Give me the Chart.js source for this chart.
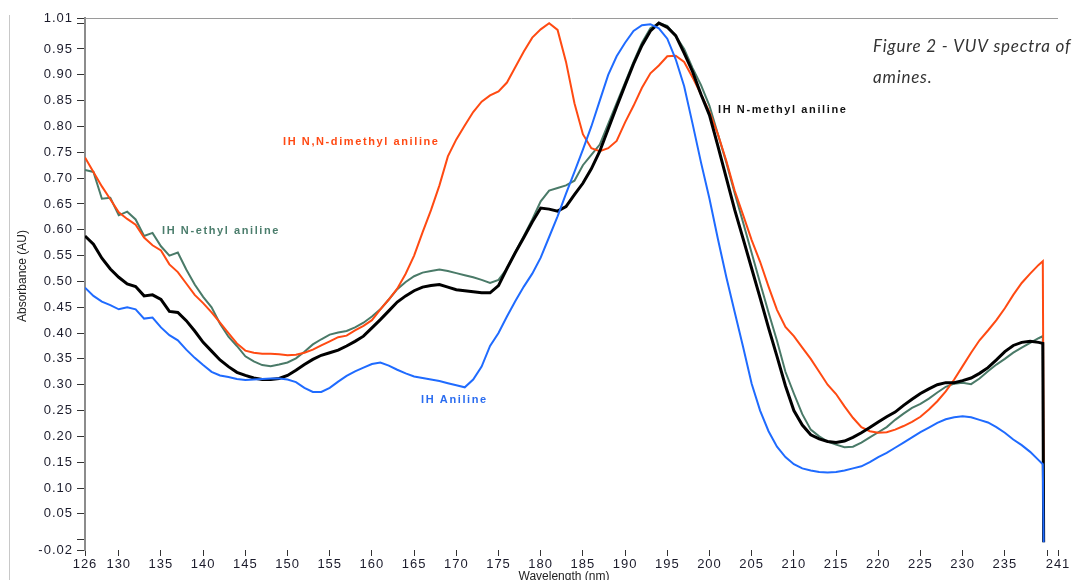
<!DOCTYPE html>
<html lang="en">
<head>
  <meta charset="UTF-8">
  <title>VUV spectra of amines</title>
  <script src="https://cdn.jsdelivr.net/npm/chart.js"></script>
  <style>
    body { margin: 0; background: #fff; }
    canvas { display: block; }
  </style>
</head>
<body>
  <canvas id="spectra" width="1075" height="580"></canvas>

  <script>
    // wavelength (nm), the last point is where every trace drops off
    const wavelengths = [
      126,127,128,129,130,131,132,133,134,135,136,137,138,139,140,141,142,143,144,145,
      146,147,148,149,150,151,152,153,154,155,156,157,158,159,160,161,162,163,164,165,
      166,167,168,169,170,171,172,173,174,175,176,177,178,179,180,181,182,183,184,185,
      186,187,188,189,190,191,192,193,194,195,196,197,198,199,200,201,202,203,204,205,
      206,207,208,209,210,211,212,213,214,215,216,217,218,219,220,221,222,223,224,225,
      226,227,228,229,230,231,232,233,234,235,236,237,238,239,239.5,239.6
    ];

    const dimethylAniline = [
      0.740,0.712,0.684,0.659,0.634,0.621,0.610,0.585,0.570,0.560,
      0.533,0.518,0.496,0.474,0.458,0.440,0.420,0.400,0.380,0.366,
      0.362,0.360,0.360,0.359,0.357,0.358,0.362,0.368,0.376,0.384,
      0.392,0.395,0.405,0.414,0.425,0.446,0.465,0.486,0.515,0.550,
      0.595,0.638,0.686,0.742,0.775,0.802,0.828,0.848,0.860,0.868,
      0.885,0.915,0.945,0.972,0.988,1.000,0.987,0.925,0.845,0.785,
      0.758,0.752,0.758,0.772,0.808,0.840,0.875,0.903,0.918,0.936,
      0.937,0.925,0.895,0.862,0.828,0.785,0.733,0.675,0.628,0.580,
      0.538,0.490,0.445,0.412,0.394,0.372,0.350,0.325,0.300,0.282,
      0.258,0.236,0.218,0.210,0.207,0.208,0.213,0.220,0.228,0.238,
      0.252,0.268,0.287,0.310,0.336,0.362,0.386,0.405,0.425,0.448,
      0.474,0.497,0.515,0.532,0.539,0.150
    ];

    const ethylAniline = [
      0.716,0.712,0.660,0.662,0.628,0.635,0.620,0.588,0.594,0.568,
      0.550,0.556,0.523,0.494,0.470,0.450,0.418,0.393,0.375,0.355,
      0.345,0.338,0.336,0.339,0.343,0.351,0.364,0.378,0.388,0.397,
      0.401,0.404,0.411,0.420,0.432,0.446,0.465,0.485,0.499,0.510,
      0.517,0.520,0.523,0.520,0.516,0.512,0.508,0.503,0.497,0.503,
      0.525,0.557,0.588,0.620,0.655,0.676,0.681,0.686,0.695,0.725,
      0.745,0.765,0.805,0.845,0.885,0.925,0.962,0.990,1.000,0.995,
      0.975,0.950,0.913,0.880,0.840,0.785,0.730,0.670,0.613,0.555,
      0.497,0.440,0.385,0.325,0.283,0.243,0.213,0.200,0.190,0.184,
      0.179,0.180,0.188,0.198,0.208,0.218,0.232,0.244,0.255,0.263,
      0.273,0.285,0.296,0.302,0.304,0.301,0.312,0.326,0.339,0.350,
      0.362,0.372,0.381,0.390,0.394,0.000
    ];

    const methylAniline = [
      0.588,0.572,0.545,0.524,0.508,0.495,0.490,0.472,0.474,0.465,
      0.442,0.440,0.424,0.404,0.382,0.365,0.348,0.335,0.324,0.318,
      0.313,0.310,0.310,0.312,0.318,0.328,0.339,0.349,0.357,0.362,
      0.367,0.375,0.384,0.394,0.410,0.426,0.443,0.460,0.472,0.482,
      0.489,0.492,0.494,0.489,0.484,0.482,0.480,0.478,0.478,0.492,
      0.525,0.556,0.585,0.615,0.642,0.640,0.636,0.645,0.668,0.690,
      0.718,0.752,0.795,0.838,0.880,0.921,0.957,0.985,1.000,0.992,
      0.976,0.942,0.906,0.862,0.822,0.762,0.700,0.638,0.582,0.525,
      0.468,0.410,0.355,0.298,0.250,0.222,0.203,0.195,0.190,0.188,
      0.191,0.198,0.207,0.217,0.228,0.238,0.247,0.260,0.272,0.283,
      0.292,0.300,0.304,0.304,0.308,0.313,0.322,0.333,0.348,0.364,
      0.376,0.382,0.384,0.382,0.380,-0.005
    ];

    const aniline = [
      0.488,0.472,0.461,0.454,0.446,0.450,0.446,0.428,0.430,0.411,
      0.396,0.386,0.368,0.352,0.338,0.325,0.318,0.315,0.311,0.309,
      0.310,0.311,0.312,0.312,0.310,0.305,0.294,0.286,0.286,0.294,
      0.306,0.317,0.326,0.333,0.340,0.343,0.337,0.329,0.322,0.316,
      0.313,0.310,0.307,0.303,0.299,0.295,0.310,0.335,0.375,0.400,
      0.432,0.462,0.490,0.515,0.546,0.586,0.626,0.670,0.712,0.755,
      0.800,0.850,0.900,0.936,0.962,0.985,0.996,0.998,0.990,0.970,
      0.930,0.878,0.805,0.730,0.660,0.582,0.508,0.440,0.372,0.302,
      0.250,0.210,0.180,0.160,0.146,0.138,0.134,0.131,0.130,0.131,
      0.134,0.138,0.142,0.150,0.160,0.168,0.178,0.188,0.198,0.208,
      0.217,0.226,0.233,0.237,0.239,0.237,0.232,0.227,0.218,0.207,
      0.194,0.183,0.170,0.154,0.146,-0.005
    ];

    // axis ticks (240 is marked but not labelled, 0.00 and 1.00 too)
    const xTicks = [126,130,135,140,145,150,155,160,165,170,175,180,185,190,195,200,205,210,215,220,225,230,235,240,241.3];
    const yTicks = [-0.02,0,0.05,0.10,0.15,0.20,0.25,0.30,0.35,0.40,0.45,0.50,0.55,0.60,0.65,0.70,0.75,0.80,0.85,0.90,0.95,1.00,1.01];

    const pts = vals => vals.map((v, i) => ({ x: wavelengths[i], y: v }));

    // text labels, caption, frame lines
    const decorations = {
      id: 'decorations',
      beforeDraw(chart) {
        // the original tick labels are spaced out a bit
        chart.ctx.letterSpacing = '1px';
      },
      afterDraw(chart) {
        const ctx = chart.ctx;
        const area = chart.chartArea;
        ctx.save();

        // page edge + top frame line
        ctx.strokeStyle = '#c8c8c8';
        ctx.lineWidth = 1;
        ctx.beginPath();
        ctx.moveTo(9.5, 15);
        ctx.lineTo(9.5, 580);
        ctx.stroke();
        ctx.strokeStyle = '#9a9a9a';
        ctx.beginPath();
        ctx.moveTo(area.left, area.top + 0.5);
        ctx.lineTo(area.right, area.top + 0.5);
        ctx.stroke();

        // series labels
        ctx.font = 'bold 11px "Liberation Sans", Arial, sans-serif';
        ctx.letterSpacing = '1.6px';
        ctx.textBaseline = 'middle';
        ctx.textAlign = 'left';
        ctx.fillStyle = '#ff4a14';
        ctx.fillText('IH N,N-dimethyl aniline', 283, 142);
        ctx.fillStyle = '#4b7d6c';
        ctx.fillText('IH N-ethyl aniline', 162, 231);
        ctx.fillStyle = '#2a6cf0';
        ctx.fillText('IH Aniline', 421, 400);
        ctx.fillStyle = '#111';
        ctx.fillText('IH N-methyl aniline', 718, 110);

        // axis titles
        ctx.letterSpacing = '0px';
        ctx.fillStyle = '#222';
        ctx.font = '12px "Liberation Sans Narrow", "Liberation Sans", Arial, sans-serif';
        ctx.textAlign = 'center';
        ctx.fillText('Wavelength (nm)', 564, 577);
        ctx.save();
        ctx.translate(23, 276);
        ctx.rotate(-Math.PI / 2);
        ctx.fillText('Absorbance (AU)', 0, 0);
        ctx.restore();

        // figure caption
        ctx.fillStyle = '#333';
        ctx.font = 'italic 17px Lato, "Open Sans", sans-serif';
        ctx.letterSpacing = '0.8px';
        ctx.textAlign = 'left';
        ctx.fillText('Figure 2 - VUV spectra of', 873, 47);
        ctx.fillText('amines.', 873, 78);

        ctx.restore();
      }
    };

    const line = (label, vals, color, width) => ({
      label: label,
      data: pts(vals),
      borderColor: color,
      borderWidth: width,
      pointRadius: 0,
      tension: 0,
      fill: false
    });

    new Chart(document.getElementById('spectra'), {
      type: 'line',
      data: {
        datasets: [
          line('IH Aniline', aniline, '#1f6bff', 2),
          line('IH N-methyl aniline', methylAniline, '#000000', 3),
          line('IH N,N-dimethyl aniline', dimethylAniline, '#ff4a12', 2),
          line('IH N-ethyl aniline', ethylAniline, '#4a7a68', 2)
        ]
      },
      options: {
        responsive: false,
        animation: false,
        layout: { padding: { left: 0, top: 18, right: 17, bottom: 0 } },
        plugins: { legend: { display: false }, tooltip: { enabled: false } },
        scales: {
          x: {
            type: 'linear',
            min: 126,
            max: 241.3,
            afterBuildTicks: scale => { scale.ticks = xTicks.map(v => ({ value: v })); },
            afterFit: scale => { scale.height = 30; },
            border: { display: false },
            grid: { drawOnChartArea: false, drawTicks: true, tickLength: 6, tickColor: '#333' },
            ticks: {
              autoSkip: false,
              maxRotation: 0,
              padding: 1,
              color: '#1b1b2b',
              font: { family: '"Liberation Sans", Arial, sans-serif', size: 13 },
              callback: v => (v === 240 ? '' : Math.round(v).toString())
            }
          },
          y: {
            min: -0.02,
            max: 1.01,
            afterBuildTicks: scale => { scale.ticks = yTicks.map(v => ({ value: v })); },
            afterFit: scale => { scale.width = 85; },
            border: { display: true, color: '#8c8c8c', width: 2 },
            grid: { drawOnChartArea: false, drawTicks: true, tickLength: 8, tickColor: '#333' },
            ticks: {
              autoSkip: false,
              padding: 4,
              color: '#1b1b2b',
              font: { family: '"Liberation Sans", Arial, sans-serif', size: 13 },
              callback: v => (v === 0 || v === 1 ? '' : v.toFixed(2))
            }
          }
        }
      },
      plugins: [decorations]
    });
  </script>
</body>
</html>
